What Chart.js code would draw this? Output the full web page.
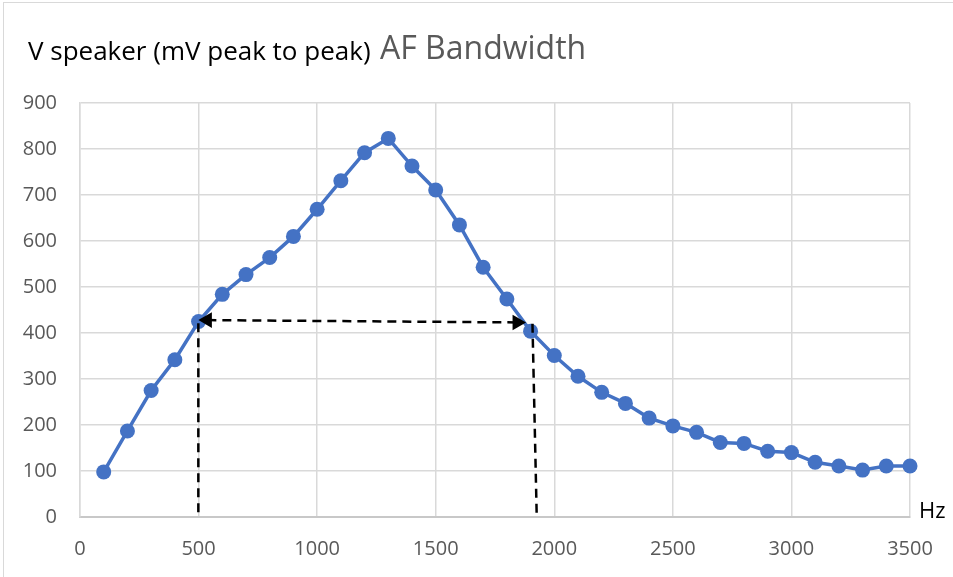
<!DOCTYPE html>
<html>
<head>
<meta charset="utf-8">
<title>AF Bandwidth</title>
<script src="https://cdn.jsdelivr.net/npm/chart.js@4.4.1/dist/chart.umd.min.js"></script>
<style>
  html, body { margin: 0; padding: 0; background: #fff; }
  #wrap { width: 953px; height: 577px; position: relative; }
</style>
</head>
<body>
<div id="wrap"><canvas id="bwChart"></canvas></div>
<script>
// frequency (Hz) and measured speaker voltage (mV peak to peak)
const freqs = [100, 200, 300, 400, 500, 600, 700, 800, 900, 1000,
    1100, 1200, 1300, 1400, 1500, 1600, 1700, 1800, 1900, 2000,
    2100, 2200, 2300, 2400, 2500, 2600, 2700, 2800, 2900, 3000,
    3100, 3200, 3300, 3400, 3500];
const vSpeaker = [98, 187, 275, 342, 425, 484, 527, 564, 610, 669,
    731, 792, 823, 763, 711, 635, 543, 474, 404, 351,
    306, 271, 247, 215, 198, 184, 162, 160, 143, 140,
    119, 111, 102, 111, 111];

// bandwidth markers (dashed lines with arrows)
const leftDropX = [499, 499];
const leftDropY = [421, 0];
const rightDropX = [1908, 1926];
const rightDropY = [420, 0];
const arrowX = [537, 1843];
const arrowY = [428, 423];

const xTicks = [0, 500, 1000, 1500, 2000, 2500, 3000, 3500];
const yTicks = [0, 100, 200, 300, 400, 500, 600, 700, 800, 900];

const toPoints = (xs, ys) => xs.map((x, i) => ({ x: x, y: ys[i] }));

const FONT = "'Open Sans', 'Noto Sans', sans-serif";

// titles, axis unit and outer frame
const decorPlugin = {
    id: "decor",
    beforeDraw(chart) {
        const ctx = chart.ctx;
        ctx.save();
        ctx.fillStyle = "#ffffff";
        ctx.fillRect(0, 0, chart.width, chart.height);
        ctx.strokeStyle = "#d9d9d9";
        ctx.lineWidth = 1;
        ctx.strokeRect(3.5, 2.5, chart.width + 20, chart.height + 20);
        ctx.restore();
    },
    afterDraw(chart) {
        const ctx = chart.ctx;
        ctx.save();
        ctx.textBaseline = "alphabetic";
        ctx.textAlign = "left";
        ctx.fillStyle = "#000000";
        ctx.font = "26px " + FONT;
        ctx.fillText("V speaker (mV peak to peak)", 28, 60);
        ctx.fillStyle = "#595959";
        ctx.font = "32px " + FONT;
        ctx.fillText("AF Bandwidth", 380, 59);
        ctx.fillStyle = "#000000";
        ctx.font = "22px " + FONT;
        ctx.fillText("Hz", 919, 518);
        ctx.restore();
    }
};

const ctx = document.getElementById("bwChart").getContext("2d");

const dashedStyle = {
    borderColor: "#000000",
    borderWidth: 2.5,
    borderDash: [9, 6],
    pointRadius: 0,
    showLine: true,
    fill: false,
    clip: false,
};

new Chart(ctx, {
    type: "scatter",
    data: {
        datasets: [
            {
                label: "V speaker",
                data: toPoints(freqs, vSpeaker),
                showLine: true,
                borderColor: "#4472C4",
                backgroundColor: "#4472C4",
                borderWidth: 3.5,
                pointRadius: 7.5,
                pointBorderWidth: 0,
                clip: false,
                order: 2,
            },
            Object.assign({ label: "f low", data: toPoints(leftDropX, leftDropY), order: 1 }, dashedStyle),
            Object.assign({ label: "f high", data: toPoints(rightDropX, rightDropY), order: 1 }, dashedStyle),
            Object.assign({}, dashedStyle, {
                label: "bandwidth",
                data: toPoints(arrowX, arrowY),
                order: 1,
                pointStyle: "triangle",
                pointRadius: 9,
                pointBackgroundColor: "#000000",
                pointBorderColor: "#000000",
                pointBorderWidth: 0,
                pointRotation: [-90, 90],
            }),
        ],
    },
    options: {
        responsive: true,
        maintainAspectRatio: false,
        animation: false,
        layout: {
            padding: { top: 103, right: 43, left: 0, bottom: 0 },
        },
        plugins: {
            legend: { display: false },
            tooltip: { enabled: false },
            title: { display: false },
        },
        scales: {
            x: {
                type: "linear",
                min: 0,
                max: 3500,
                afterBuildTicks: (axis) => { axis.ticks = xTicks.map(v => ({ value: v })); },
                afterFit: (axis) => { axis.height = 60; },
                ticks: {
                    padding: 20,
                    color: "#595959",
                    font: { family: FONT, size: 20 },
                    maxRotation: 0,
                    callback: (v) => String(v),
                },
                grid: { color: "#d9d9d9", lineWidth: 1.5, drawTicks: false },
                border: { color: "#c8c8c8", width: 2 },
            },
            y: {
                type: "linear",
                min: 0,
                max: 900,
                afterBuildTicks: (axis) => { axis.ticks = yTicks.map(v => ({ value: v })); },
                afterFit: (axis) => { axis.width = 80; },
                ticks: {
                    padding: 23,
                    color: "#595959",
                    font: { family: FONT, size: 20 },
                    callback: (v) => String(v),
                },
                grid: { color: "#d9d9d9", lineWidth: 1.5, drawTicks: false },
                border: { color: "#d9d9d9", width: 1.5 },
            },
        },
    },
    plugins: [decorPlugin],
});
</script>
</body>
</html>
